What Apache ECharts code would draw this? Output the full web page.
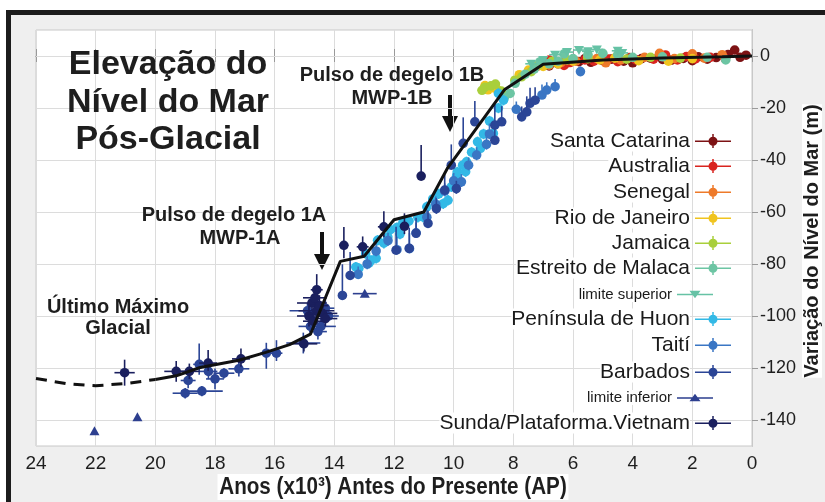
<!DOCTYPE html>
<html><head><meta charset="utf-8">
<script src="https://cdn.jsdelivr.net/npm/echarts@6/dist/echarts.min.js"></script>
<style>html,body{margin:0;padding:0;background:#fff;}#c{width:825px;height:502px;}</style>
</head><body><div id="c"></div>
<script>
// ---- data: [age ka BP, sea level m, age err, level err up, level err down]
const yTickValues = [0, -20, -40, -60, -80, -100, -120, -140];
const seriesNames = ['Santa Catarina','Australia','Senegal','Rio de Janeiro','Jamaica','Estreito de Malaca','limite superior','Península de Huon','Taití','Barbados','limite inferior','Sunda/Plataforma.Vietnam'];
const seriesColors = ['#7d1214','#d9241f','#ee7a2a','#f0c41f','#a9cf3b','#6cc5a3','#66c2a5','#33b9e6','#3a76c4','#2b4596','#2d3f8f','#1a1f5e'];

const santaCatarina = [[6.5,-3,0.15,1,1],[5.8,-2.2,0.15,1,1],[5.0,-1.8,0.15,1,1],[4.3,-2.0,0.15,1,1],[3.7,-1.0,0.15,1,1],[3.0,-1.3,0.15,1,1],[2.3,-0.9,0.15,1,1],[1.8,-0.3,0.15,1,1],[1.2,-0.6,0.15,1,1],[0.58,2.3,0.1,1,1],[0.4,-0.5,0.1,1,1],[0.2,0.3,0.1,1,1],[6.2,-2.6,0.15,1,1],[5.4,-2.4,0.15,1,1],[4.7,-1.2,0.15,1,1],[3.4,-0.8,0.15,1,1],[2.7,-1.6,0.15,1,1],[1.5,-1.2,0.15,1,1],[6.8,-3.8,0.15,1,1],[5.6,-1.0,0.15,1,1],[4.0,-2.6,0.15,1,1],[2.0,-1.8,0.15,1,1],[0.8,0.6,0.1,1,1]];
const australia = [[7.0,-3,0.15,1,1],[6.6,-2,0.15,1,1],[6.1,-2.5,0.15,1,1],[5.6,-1.5,0.15,1,1],[5.3,-2,0.15,1,1],[4.8,-1.2,0.15,1,1],[4.1,-0.6,0.15,1,1],[3.3,-1.2,0.15,1,1],[2.5,-1.5,0.15,1,1],[2.2,-0.2,0.15,1,1],[1.4,-0.5,0.15,1,1],[0.9,-1,0.15,1,1],[6.8,-1.6,0.15,1,1],[4.5,-2.2,0.15,1,1],[3.9,-1.4,0.15,1,1],[7.3,-4.5,0.15,1,1],[6.3,-3.6,0.15,1,1],[5.0,-0.4,0.15,1,1],[2.9,0.4,0.15,1,1],[1.9,-1.1,0.15,1,1]];
const senegal = [[7.2,-4,0.15,1,1],[6.8,-3.5,0.15,1,1],[6.4,-2.5,0.15,1,1],[5.9,-2,0.15,1,1],[5.2,-1,0.15,1,1],[4.4,-1.5,0.15,1,1],[3.6,-0.5,0.15,1,1],[2.6,-1,0.15,1,1],[1.6,-0.8,0.15,1,1],[1.0,0.5,0.15,1,1],[2.0,0.8,0.15,1,1],[3.1,1.0,0.15,1,1],[4.9,-2.6,0.15,1,1]];
const rioDeJaneiro = [[8.85,-13,0.15,1,1],[8.7,-12.2,0.15,1,1],[8.55,-12.8,0.15,1,1],[7.49,-5.4,0.15,1,1],[7.0,-4,0.15,1,1],[6.5,-3,0.15,1,1],[6.0,-2,0.15,1,1],[5.1,-1.5,0.15,1,1],[4.6,-0.8,0.15,1,1],[3.8,-1.8,0.15,1,1],[2.8,-2,0.15,1,1],[2.0,-1,0.15,1,1],[8.95,-11.4,0.15,1,1],[7.8,-7.2,0.15,1,1],[5.5,-0.2,0.15,1,1]];
const jamaica = [[8.95,-12,0.15,1,1],[8.75,-11.5,0.15,1,1],[8.6,-10.8,0.15,1,1],[7.72,-8,0.15,1,1],[7.16,-3.5,0.15,1,1],[7.4,-6,0.15,1,1],[6.7,-2,0.15,1,1],[6.2,-1.5,0.15,1,1],[5.5,-1,0.15,1,1],[4.2,-1.2,0.15,1,1],[3.4,-0.5,0.15,1,1],[2.4,-0.8,0.15,1,1],[9.05,-13.2,0.15,1,1],[8.4,-13.5,0.15,1,1],[7.95,-9.3,0.15,1,1]];
const estreitoMalaca = [[8.11,-14.4,0.15,1,1],[7.94,-10.5,0.15,1,1],[7.6,-7,0.15,1,1],[7.3,-5,0.15,1,1],[6.8,-3,0.15,1,1],[6.5,-2,0.15,1,1],[6.0,-1,0.15,1,1],[5.5,0.5,0.15,1,1],[5.0,1,0.15,1,1],[4.5,0.5,0.15,1,1],[4.0,-0.5,0.15,1,1],[3.0,-0.3,0.15,1,1],[1.5,-0.5,0.15,1,1],[0.88,-1.5,0.15,1,1],[8.3,-16,0.15,1,1],[7.1,-2.2,0.15,1,1],[6.3,0.8,0.15,1,1]];
const limiteSuperior = [[5.8,2.3,0.2,0,0],[5.5,1.8,0.2,0,0],[5.2,2.5,0.2,0,0],[4.5,2.0,0.2,0,0],[6.2,1.5,0.2,0,0],[7.0,-1.5,0.2,0,0],[7.4,-3,0.2,0,0],[4.35,1.2,0.2,0,0],[6.6,0.5,0.2,0,0]];
const peninsulaHuon = [[13.28,-81.2,0.15,2,2],[13.18,-81.7,0.15,2,2],[12.84,-79.7,0.15,2,2],[12.77,-78.6,0.15,2,2],[12.6,-77.8,0.15,2,2],[12.55,-70.9,0.15,2,2],[12.34,-72,0.15,2,2],[12.21,-69.6,0.15,2,2],[12.12,-66.8,0.15,2,2],[11.9,-66,0.15,2,2],[11.7,-64,0.15,2,2],[11.5,-63.5,0.15,2,2],[11.2,-62,0.15,2,2],[11.03,-61.9,0.15,2,2],[10.9,-58,0.15,2,2],[10.7,-55,0.15,2,2],[10.5,-53,0.15,2,2],[10.19,-55.5,0.15,2,2],[10.08,-50.3,0.15,2,2],[9.9,-46,0.15,2,2],[9.88,-44.6,0.15,2,2],[9.7,-42,0.15,2,2],[9.57,-40.7,0.15,2,2],[9.4,-37,0.15,2,2],[9.2,-33,0.15,2,2],[9.0,-30,0.15,2,2],[8.67,-29.8,0.15,2,2],[8.8,-25,0.15,2,2],[8.5,-20,0.15,2,2],[8.5,-14.4,0.15,2,2],[8.33,-17,0.15,2,2],[12.95,-76,0.15,2,2],[11.8,-68.5,0.15,2,2],[10.35,-56.8,0.15,2,2],[9.6,-44.5,0.15,2,2],[9.1,-35.5,0.15,2,2]];
const taiti = [[13.2,-84,0.1,3,1],[12.9,-80,0.1,3,2],[12.6,-75,0.1,4,2],[12.2,-71,0.1,3,2],[11.9,-74.5,0.1,5,1],[11.48,-74.1,0.1,6,1],[11.26,-68,0.1,4,1],[10.9,-62,0.1,3,2],[10.6,-57,0.1,3,2],[10.3,-52,0.1,3,2],[10.0,-48,0.1,3,2],[9.74,-48.4,0.1,3,2],[9.5,-42,0.1,3,2],[9.23,-38.1,0.1,3,2],[8.8,-30,0.1,4,2],[7.04,-15,0.1,4,1],[6.88,-13.1,0.1,3,1],[6.6,-11.8,0.1,3,1],[5.75,-6,0.1,2,1],[8.9,-34,0.1,3,2],[7.9,-20.5,0.1,3,1]];
const barbados = [[18.9,-124.8,0.25,3,3],[19.0,-129.7,0.42,2,2],[18.53,-118.6,0.2,8,4],[18.44,-128.9,0.7,2,2],[18.22,-121.3,0.3,4,3],[18.0,-124.2,0.3,4,4],[17.7,-122,0.35,2,2],[17.2,-120.3,0.35,4,3],[16.28,-114.3,0.2,4,6],[15.94,-114.3,0.2,5,3],[15.04,-110.4,0.57,4,4],[14.9,-98,0.6,3,3],[14.45,-104,0.5,3,3],[14.2,-100,0.35,2,2],[14.55,-106,0.3,3,3],[14.8,-104,0.4,3,3],[14.3,-97,0.3,3,3],[13.73,-92.1,0.1,12,1],[13.47,-84.4,0.1,9,1],[11.93,-74.7,0.1,9,1],[11.49,-74,0.1,8,1],[11.26,-68.2,0.1,6,1],[10.86,-64.4,0.1,5,1],[10.58,-58.7,0.1,4,2],[10.3,-51.6,0.1,6,1],[9.91,-51,0.1,3,2],[10.08,-42,0.1,8,1],[9.68,-33.6,0.1,10,1],[8.62,-26.6,0.1,8,1],[8.39,-25.3,0.1,6,1],[8.62,-32.4,0.1,5,1],[9.29,-25.3,0.1,8,1],[7.72,-23.4,0.1,4,1],[7.55,-21.5,0.1,6,1],[7.44,-18.2,0.1,6,1],[7.27,-17,0.1,5,1]];
const limiteInferior = [[22.04,-144.3,0,0,0],[20.6,-138.9,0,0,0],[12.98,-91.4,0.4,0,0]];
const sundaVietnam = [[21.03,-121.8,0.34,5,5],[19.3,-121.3,0.4,4,4],[18.86,-121.3,0.35,3,3],[18.23,-118.1,0.3,5,3],[17.13,-116.5,0.3,4,3],[14.59,-89.9,0.2,6,6],[15.02,-110.7,0.45,3,3],[14.75,-95,0.5,3,3],[14.6,-98,0.6,3,3],[14.85,-100,0.4,4,4],[14.4,-99,0.5,3,3],[14.7,-102,0.35,3,3],[14.5,-96,0.3,4,2],[14.65,-93,0.4,3,3],[14.3,-101,0.4,3,3],[13.68,-72.8,0.15,7,5],[13.05,-73.4,0.2,4,4],[12.34,-65.7,0.2,6,4],[11.65,-65.5,0.15,5,3],[11.09,-46.2,0.1,12,1]];

const curveDashed = [[24,-124],[23,-126],[22,-126.8],[21,-126],[20,-124.4]];
const curveSolid = [[20,-124.4],[19.3,-123],[18.5,-119.8],[17.2,-117],[16.3,-114],[15.5,-111],[14.8,-107],[13.8,-79],[13,-77],[12,-63],[11,-60],[10.2,-43],[8.3,-13],[7,-3.2],[5,-1.5],[3,-0.8],[1,-0.3],[0,0]];

const seriesData = [santaCatarina, australia, senegal, rioDeJaneiro, jamaica, estreitoMalaca, limiteSuperior, peninsulaHuon, taiti, barbados, limiteInferior, sundaVietnam];
const seriesShapes = ['circle','circle','circle','circle','circle','circle','down','circle','circle','circle','up','circle'];

// ---- rendering
const sans = "'Liberation Sans', Arial, sans-serif";

function errRender(shape) {
  return function (params, api) {
    const x = api.value(0), y = api.value(1), xe = api.value(2), yu = api.value(3), yd = api.value(4);
    const c = api.coord([x, y]);
    const xa = api.coord([x + xe, y]), xb = api.coord([x - xe, y]);
    const ya = api.coord([x, y + yu]), yb = api.coord([x, y - yd]);
    const color = api.visual('color');
    const ch = [];
    if (xe > 0) ch.push({type: 'line', shape: {x1: xa[0], y1: c[1], x2: xb[0], y2: c[1]}, style: {stroke: color, lineWidth: 1.6}});
    if (yu > 0 || yd > 0) ch.push({type: 'line', shape: {x1: c[0], y1: ya[1], x2: c[0], y2: yb[1]}, style: {stroke: color, lineWidth: 1.6}});
    if (shape === 'circle') ch.push({type: 'circle', shape: {cx: c[0], cy: c[1], r: 4.8}, style: {fill: color}});
    else if (shape === 'up') ch.push({type: 'polygon', shape: {points: [[c[0], c[1] - 5], [c[0] + 5, c[1] + 4], [c[0] - 5, c[1] + 4]]}, style: {fill: color}});
    else ch.push({type: 'polygon', shape: {points: [[c[0], c[1] + 5], [c[0] + 5, c[1] - 4], [c[0] - 5, c[1] - 4]]}, style: {fill: color}});
    return {type: 'group', children: ch};
  };
}

const iconCircle = 'path://M0,6.5 h36 v1.5 h-36 Z M17.25,0 h1.5 v14 h-1.5 Z M22.5,7.25 A4.5,4.5 0 1 1 13.5,7.25 A4.5,4.5 0 1 1 22.5,7.25 Z';
const iconUp = 'path://M0,6.5 h36 v1.5 h-36 Z M12.5,10.5 L18,3 L23.5,10.5 Z';
const iconDown = 'path://M0,6.5 h36 v1.5 h-36 Z M12.5,3.5 h11 L18,11 Z';
const legendCenters = [143, 168, 194, 220, 245, 270, 296, 321, 347, 374, 399, 425];

const series = [];
series.push({type: 'line', data: [], z: 1, silent: true, markLine: {z: 1, silent: true, symbol: 'none', label: {show: false}, lineStyle: {color: '#dcdcdc', width: 1, type: 'solid'}, data: yTickValues.map(v => ({yAxis: v}))}});
seriesNames.forEach((n, i) => {
  series.push({name: n, type: 'custom', renderItem: errRender(seriesShapes[i]), data: seriesData[i], encode: {x: 0, y: 1}, itemStyle: {color: seriesColors[i]}, z: 2});
});
series.push({type: 'line', data: curveDashed, symbol: 'none', lineStyle: {color: '#111', width: 3, type: [11, 8]}, z: 5, silent: true});
series.push({type: 'line', data: curveSolid, symbol: 'none', lineStyle: {color: '#111', width: 3}, z: 5, silent: true});

const legends = seriesNames.map((n, i) => {
  const small = seriesShapes[i] !== 'circle';
  const fs = small ? 15 : 21;
  return {
    data: [n], orient: 'horizontal', align: 'right', padding: 0, itemGap: 0, z: 6,
    right: small ? 112 : 94, top: legendCenters[i] - (small ? 9 : 12.5),
    icon: small ? (seriesShapes[i] === 'up' ? iconUp : iconDown) : iconCircle,
    itemWidth: 36, itemHeight: 14, selectedMode: false,
    textStyle: {fontSize: fs, color: '#1a1a1a', fontFamily: sans, backgroundColor: '#ffffff'}
  };
});

function txt(t, x, y, size, extra) {
  return Object.assign({type: 'text', x: x, y: y, z: 20, style: {text: t, fill: '#1e1e1e', font: 'bold ' + size + 'px ' + sans, textAlign: 'center', textVerticalAlign: 'middle'}}, extra || {});
}
function arrow(x, y1, y2) {
  return {type: 'group', z: 20, children: [
    {type: 'line', shape: {x1: x, y1: y1, x2: x, y2: y2 - 12}, style: {stroke: '#111', lineWidth: 4}},
    {type: 'polygon', shape: {points: [[x - 8, y2 - 16], [x + 8, y2 - 16], [x, y2]]}, style: {fill: '#111'}}
  ]};
}

const chart = echarts.init(document.getElementById('c'), null, {renderer: 'canvas'});
chart.setOption({
  animation: false,
  backgroundColor: '#ffffff',
  grid: {left: 36, right: 73, top: 30, bottom: 56, show: true, backgroundColor: '#ffffff', borderColor: '#c8c8c8', borderWidth: 1, z: 0},
  xAxis: [
    {type: 'value', min: 0, max: 24, interval: 2, inverse: true, position: 'bottom',
     axisLine: {show: true, lineStyle: {color: '#9a9a9a'}}, axisTick: {show: true, length: 6, lineStyle: {color: '#9a9a9a'}},
     axisLabel: {fontSize: 19, color: '#1e1e1e', fontFamily: sans, margin: 8},
     splitLine: {show: true, lineStyle: {color: '#dcdcdc', width: 1}}},
    {type: 'value', min: 0, max: 24, interval: 2, inverse: true, position: 'top',
     axisLine: {show: true, lineStyle: {color: '#9a9a9a'}}, axisTick: {show: true, length: 7, lineStyle: {color: '#9a9a9a'}},
     axisLabel: {show: false}, splitLine: {show: false}}
  ],
  yAxis: [
    {type: 'value', min: -150, max: 10, interval: 10, position: 'right',
     axisLine: {show: true, lineStyle: {color: '#9a9a9a'}},
     axisTick: {show: true, length: 6, customValues: yTickValues, lineStyle: {color: '#9a9a9a'}},
     axisLabel: {customValues: yTickValues, fontSize: 18, color: '#1e1e1e', fontFamily: sans, margin: 8},
     splitLine: {show: false}},
    {type: 'value', min: -150, max: 10, interval: 10, position: 'left',
     axisLine: {show: true, lineStyle: {color: '#c8c8c8'}},
     axisTick: {show: true, length: 6, customValues: yTickValues, lineStyle: {color: '#9a9a9a'}},
     axisLabel: {show: false}, splitLine: {show: false}}
  ],
  legend: legends,
  series: series,
  graphic: [
    {type: 'rect', z: -10, shape: {x: 8.5, y: 12.5, width: 900, height: 600}, style: {fill: '#efefef', stroke: '#1c1c1c', lineWidth: 5}},
    txt('Elevação do', 168, 65, 34),
    txt('Nível do Mar', 168, 103, 34),
    txt('Pós-Glacial', 168, 140, 34),
    txt('Pulso de degelo 1B', 392, 75, 20),
    txt('MWP-1B', 392, 98, 20),
    arrow(450, 95, 132),
    txt('Pulso de degelo 1A', 234, 215, 20),
    txt('MWP-1A', 240, 238, 20),
    arrow(322, 232, 270),
    txt('Último Máximo', 118, 307, 20),
    txt('Glacial', 118, 328, 20),
    {type: 'text', z: 20, x: 393, y: 487, scaleX: 0.86,
     style: {text: 'Anos (x10³) Antes do Presente (AP)', fill: '#1e1e1e', font: 'bold 24px ' + sans, textAlign: 'center', textVerticalAlign: 'middle', backgroundColor: '#ffffff', padding: [1, 2]}},
    {type: 'text', z: 20, x: 812, y: 241, rotation: Math.PI / 2,
     style: {text: 'Variação do Nível do Mar (m)', fill: '#1e1e1e', font: 'bold 20px ' + sans, textAlign: 'center', textVerticalAlign: 'middle', backgroundColor: '#ffffff'}}
  ]
});
</script></body></html>
